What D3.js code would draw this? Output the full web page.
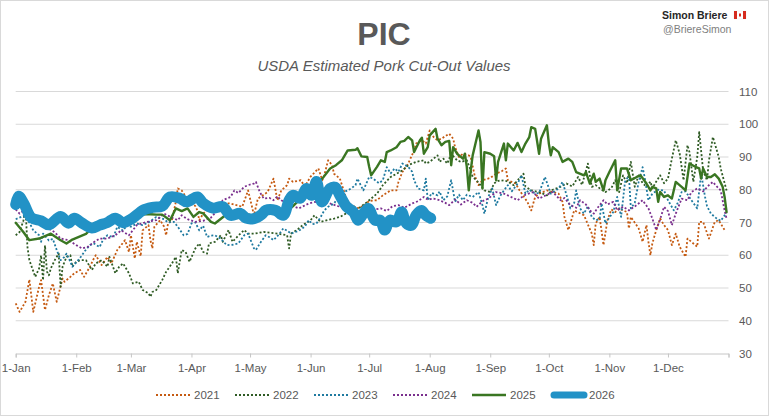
<!DOCTYPE html>
<html>
<head>
<meta charset="utf-8">
<script src="https://cdn.jsdelivr.net/npm/d3@7"></script>
<style>
  body { margin: 0; background: #fff; }
  svg { display: block; font-family: "Liberation Sans", Arial, sans-serif; }
</style>
</head>
<body>
<svg id="chart" width="769" height="416"></svg>
<script>
// values: [day of year, $/cwt]
const y2021 = [[0,45.3],[2,42.7],[5,45.8],[7,52.6],[9,42.7],[12,50.4],[13,52.4],[15,43.3],[17,47.8],[19,51.4],[21,45.8],[24,52.9],[25,51.9],[28,53.4],[30,54.5],[33,55.5],[35,53.4],[38,56.5],[40,59],[41,60],[44,57],[47,59.5],[49,57.5],[52,61.6],[54,63.1],[56,64.6],[58,61],[59,66.1],[61,59],[62,64.1],[64,59.7],[65,67.6],[68,69.2],[69,64.6],[70,62.1],[71,68.7],[74,70.7],[76,68.7],[77,66.1],[78,69.7],[80,70.7],[82,76.3],[83,80.4],[85,79.8],[88,77],[92,75],[93,73.7],[94,70.7],[96,72.7],[100,75],[104,76],[110,75.8],[113,75.3],[116,74.8],[119,79.8],[121,74.8],[122,72.2],[124,77.3],[129,79.3],[132,83.4],[134,76.8],[136,79.8],[139,81.4],[140,83.4],[142,82.4],[146,82.9],[148,81],[151,84],[155,86.5],[157,82.9],[158,84.4],[160,89],[162,87.5],[163,84.9],[166,83.4],[170,76],[175,74.4],[178,75],[181,76.6],[185,76.8],[188,78.3],[192,79.8],[195,79.8],[196,82.4],[198,85.4],[201,88],[204,92],[205,94.1],[208,95.1],[210,94.1],[212,98.1],[214,96.1],[216,95.1],[218,95.6],[222,97.1],[224,95.6],[225,93],[227,90],[229,91],[232,90.5],[233,90],[235,84.4],[237,81.4],[239,82.9],[243,83.6],[246,84.9],[249,85.7],[251,86.5],[252,82.9],[256,81.9],[258,79.8],[262,76.3],[264,73.7],[266,77.8],[268,78.8],[272,79.8],[275,79.3],[278,78.8],[280,76.3],[281,71.7],[283,67.7],[285,71.7],[286,73.7],[291,72.2],[295,66.6],[296,63.1],[297,69.7],[299,71.7],[301,63.1],[303,70.7],[305,74],[307,73.2],[309,74.3],[311,73.7],[313,73.2],[314,68.2],[315,71.7],[319,68.2],[321,64.1],[323,69.2],[324,64.1],[325,60],[326,63.6],[328,67.7],[330,71.2],[332,69.2],[334,67.7],[336,63.1],[338,66.6],[340,62.6],[343,59.5],[344,65.1],[347,63.6],[349,62.6],[350,70.2],[352,70.2],[355,65.1],[358,70.2],[360,70.7],[363,67.7]];
const y2022 = [[0,66.1],[2,67.1],[4,70.7],[5,75],[6,62.6],[7,58.5],[10,53.4],[12,56],[13,60],[14,52.4],[15,63],[16,55],[17,53.9],[18,56],[20,58.5],[22,60.5],[23,50.4],[24,56.5],[26,59.5],[28,60],[29,56.5],[31,58],[33,58.5],[36,58.5],[39,55.5],[41,57.5],[44,58.5],[47,56.5],[48,59.5],[51,54.5],[53,56.5],[55,57.5],[58,54.5],[60,51.4],[63,51.9],[65,49.4],[68,48.4],[69,47.3],[70,48.8],[72,49.4],[75,52.4],[77,54.9],[80,57.5],[82,59.5],[83,54.5],[85,61.6],[87,61],[89,58],[92,62.1],[94,63.6],[96,61],[98,60.5],[99,63.6],[102,64.1],[105,66.1],[106,64.1],[109,67.7],[111,64.1],[114,66],[117,67.7],[119,66.6],[122,66.6],[127,67.1],[134,66.6],[139,66.1],[140,62.1],[141,66.6],[144,67.7],[147,69.2],[151,70.7],[153,72.2],[156,70.2],[160,70.8],[163,71.2],[166,71.7],[169,72.7],[173,73.7],[176,74.5],[179,75.8],[181,76.8],[185,78.8],[188,81.4],[192,83.9],[195,84.9],[198,85.9],[201,87.5],[205,88.5],[209,89],[210,88],[212,88.5],[215,90],[216,90.5],[217,88.5],[219,89.5],[221,88],[223,91],[226,89],[228,88.5],[231,89],[233,85.9],[234,83.9],[236,82.9],[238,81.4],[240,79.8],[243,79.3],[245,82],[247,82.7],[250,82.9],[252,82.5],[255,81.4],[257,82.9],[260,84.9],[261,81],[264,79.8],[268,79.3],[272,78.3],[275,80],[279,80.9],[282,81.9],[285,81],[288,83.9],[290,81.5],[293,88],[295,80.9],[297,81.4],[300,80],[302,79.3],[305,80.5],[307,82.9],[309,79.3],[311,84.4],[313,82],[315,88.5],[317,80.9],[319,84.4],[321,82],[323,80.9],[325,82.5],[326,80.4],[328,82.5],[330,84.4],[332,82],[334,83.4],[336,89.5],[338,95.1],[340,91],[342,82.9],[344,93.6],[345,91.5],[347,82.4],[349,90],[350,97.6],[352,85.9],[354,82.9],[355,89],[357,96.1],[360,90],[361,86.5],[364,79.8]];
const y2023 = [[0,71],[4,72],[7,70],[9,67.6],[12,66.1],[13,64.1],[14,66.6],[17,64.5],[19,65],[21,61.6],[23,58.5],[25,59.5],[26,60.5],[28,58],[29,56.5],[32,58.5],[34,60],[35,61],[38,63.1],[40,63.6],[43,62.5],[45,65.1],[47,66.1],[50,65.5],[52,68.7],[55,67.5],[57,69.2],[59,68.7],[62,69.7],[65,69.2],[68,70],[72,71.7],[76,71],[78,70],[81,70.2],[83,68.7],[86,66.1],[88,66.5],[90,69.7],[92,70],[94,67.6],[96,69],[98,65.6],[100,66],[102,66.1],[105,65.1],[108,63.1],[111,63.2],[114,63.6],[117,66.1],[119,66.6],[122,62.1],[123,61.6],[125,63.6],[128,66.1],[130,65.5],[132,64.6],[135,66.5],[137,68.2],[139,67.5],[141,66.6],[145,67.5],[148,68.7],[150,70.7],[152,69.5],[154,69.7],[156,71.5],[158,73.7],[160,74.8],[163,75.8],[165,77.5],[168,79.3],[170,79.8],[172,80.5],[174,81.4],[175,83.4],[178,79.8],[181,83.9],[183,83.4],[186,82],[188,82.9],[190,86.9],[192,85],[194,86.5],[196,85.5],[198,88],[201,87],[203,85.5],[204,82.9],[206,80.4],[209,79.8],[210,83.4],[211,76.8],[213,79],[216,78.3],[217,79.5],[219,76.8],[221,78],[223,82.9],[225,76.3],[227,78.5],[229,76.8],[231,78.5],[234,77.8],[237,79.3],[239,75.3],[240,72.7],[242,77.8],[244,80.4],[246,75.3],[248,78],[250,79.8],[252,81.4],[254,79.5],[257,81.9],[259,84.4],[261,78.8],[263,80],[266,78.8],[268,79],[271,83.9],[274,78.8],[276,79.5],[278,80.4],[280,82.4],[282,78.5],[284,74.3],[286,76],[287,79.8],[289,74.3],[291,72.7],[293,75],[295,71.7],[297,70.7],[299,71],[300,75.8],[302,69.7],[304,71.5],[306,73.2],[308,77.8],[310,71.7],[312,82.4],[314,84.4],[315,74.3],[317,76],[319,82.4],[321,86.9],[322,84],[324,76.8],[326,78.8],[329,80],[332,79.8],[334,76.8],[337,73.7],[339,76],[341,79.3],[343,79.5],[346,76.8],[349,74.3],[351,84.9],[353,77.8],[354,75],[356,72.7],[359,71.2],[361,70.5],[364,73]];
const y2024 = [[0,74],[2,72.7],[5,74],[8,72],[12,70],[16,68.5],[20,67],[23,65.1],[27,64.6],[31,63.1],[34,62.1],[37,62.6],[40,64],[43,65.1],[47,65.1],[51,66.1],[54,67.6],[58,66.1],[62,69.2],[66,70],[70,70.5],[72,70.7],[76,72.7],[80,71.5],[83,70.7],[85,72.2],[88,71],[92,70.2],[96,70.5],[100,71.5],[103,73.5],[106,76.8],[110,77.8],[112,79.8],[114,79],[117,80.9],[119,81.4],[122,81.9],[123,82.4],[125,79.3],[127,77.3],[130,77.5],[132,76.8],[134,78],[136,76.8],[140,75.5],[145,74.3],[150,75.8],[155,76.5],[160,76],[165,75],[170,74.5],[175,73.5],[180,73.5],[184,74],[187,74.3],[190,73.5],[193,75],[196,75.3],[199,74.5],[203,75.8],[206,76.5],[209,77.8],[211,77],[214,77.3],[217,76.8],[220,76],[222,75.3],[225,77],[228,75.5],[231,76.8],[234,76],[236,74.8],[239,76.5],[242,77.3],[246,79.3],[250,78.8],[253,78],[257,76.8],[261,78.5],[265,79.3],[268,77.3],[272,78.5],[275,79.3],[279,76.8],[281,77.5],[284,75.3],[287,74.5],[289,76.8],[292,75.5],[294,73.7],[296,72.7],[298,74.5],[301,76.8],[303,75.5],[306,76.3],[308,73.7],[311,74.8],[314,73.7],[318,75.3],[321,76.8],[324,74.3],[326,71.2],[328,67.7],[330,71],[332,74.8],[334,73.5],[336,69.2],[338,72.7],[341,77.3],[344,76.8],[346,79.3],[349,80.4],[352,79.5],[355,81.4],[357,82.4],[359,81],[361,79.8],[363,73.7],[364,71.2]];
const y2025 = [[0,69.9],[4,67],[7,64.6],[12,65.1],[18,66.6],[23,64.6],[26,63.6],[29,64.8],[36,66.5],[40,69],[45,69.5],[50,70.5],[55,70],[60,71],[65,72.5],[69,72.5],[72,72.4],[75,72.4],[79,70.7],[82,74.3],[85,73.5],[88,74.3],[91,71.7],[94,73.2],[96,72.8],[100,70.2],[102,69.7],[108,72.5],[115,73],[122,72],[128,72.5],[133,73],[137,72.5],[142,75],[147,78],[152,81],[157,83.4],[161,86.5],[164,87.5],[167,89],[170,92],[174,92.2],[175,92.7],[177,90.2],[180,90],[181,87],[182,84.4],[185,87],[187,89],[189,88.5],[190,91.5],[192,92],[195,93],[197,94.6],[199,94.9],[201,96.1],[203,95.1],[204,91.5],[207,95.1],[208,95.9],[209,91],[211,93],[212,96.6],[215,98.6],[216,95.6],[218,93.6],[220,94.6],[222,94.9],[223,87.5],[224,93],[226,91],[227,90.5],[229,89.5],[230,91],[231,87],[232,79.8],[233,85.9],[234,90.5],[237,98.1],[238,94.6],[239,80.4],[240,91.5],[243,91],[245,90.2],[246,82.9],[247,88.5],[250,94.1],[251,89],[252,94.1],[255,92],[257,94.3],[259,91.5],[261,94.1],[263,96.1],[264,99.1],[266,98.6],[268,91],[269,95.6],[272,99.7],[273,94.1],[274,90.5],[275,93],[278,91.5],[280,88.5],[283,89.5],[285,88.5],[287,85.4],[291,84.4],[292,85.4],[294,81.9],[296,84.9],[297,82.4],[299,83.4],[301,79.8],[302,82.9],[304,85.4],[307,89],[308,79.8],[310,86.5],[313,86.5],[315,82.9],[318,83.9],[320,84.4],[323,81.9],[325,79.8],[326,80.9],[328,80.4],[329,76.3],[330,79.3],[332,77.8],[334,78.3],[336,77.3],[338,82.4],[341,80.9],[343,79.8],[345,88],[348,87],[350,86.5],[351,83.4],[352,86.5],[354,83.9],[356,83.9],[358,84.7],[360,83.4],[362,80.9],[363,77.8],[364,73.2]];
const y2026 = [[0,75.5],[1.5,78],[4,76],[8,71.5],[13,70.5],[17,69.3],[23,71.8],[27,69.8],[30,71.3],[34,69.8],[39,68.3],[43,69.2],[47,70],[51,71.3],[55,69.9],[59,71],[62,72.3],[65,73.7],[70,74.6],[75,75],[79,77.8],[84,77.4],[87.5,76.3],[93,77.8],[96,75.9],[101,74.4],[106,74.8],[110,72.2],[115,72.8],[118,71.3],[122,71.2],[126,72.5],[128,73.7],[133,73.7],[137,72.2],[140,76.8],[142,78.3],[145.6,77.4],[149,80.4],[151.5,78.3],[154,82.5],[156.7,76.3],[161,80.4],[163.5,80.8],[166,78.3],[169.5,74.8],[173,73.2],[175.4,70.7],[178,72.7],[180.5,74.3],[184,70.7],[186.6,70.7],[189,67.7],[191.6,70.7],[195,70.2],[197.6,73.2],[200,69.8],[202.8,69.2],[205,72.2],[207.7,73.7],[210,72.2],[212.5,71.3]];

const seriesNames = ["2021", "2022", "2023", "2024", "2025", "2026"];
const monthLabels = ["1-Jan","1-Feb","1-Mar","1-Apr","1-May","1-Jun","1-Jul","1-Aug","1-Sep","1-Oct","1-Nov","1-Dec"];
const yTicks = [30, 40, 50, 60, 70, 80, 90, 100, 110];

const series = [
  { name: "2021", values: y2021, color: "#c55a11", width: 1.8, dash: "2,2" },
  { name: "2022", values: y2022, color: "#2f5b24", width: 1.8, dash: "2,2" },
  { name: "2023", values: y2023, color: "#1f7aa0", width: 1.8, dash: "2,2" },
  { name: "2024", values: y2024, color: "#7a2f8e", width: 1.8, dash: "2,2" },
  { name: "2025", values: y2025, color: "#3a7622", width: 2.4, dash: null },
  { name: "2026", values: y2026, color: "#2292c6", width: 11, dash: null }
];

const svg = d3.select("#chart");
const base = new Date(2021, 0, 1);
const toDate = d => new Date(base.getTime() + d * 864e5);

const x = d3.scaleTime().domain([base, new Date(2022, 0, 1)]).range([15.7, 728.5]);
const y = d3.scaleLinear().domain([30, 110]).range([353.5, 91.5]);

// frame
svg.append("rect")
  .attr("x", 0.5).attr("y", 0.5).attr("width", 768).attr("height", 415)
  .attr("fill", "#fff").attr("stroke", "#d9d9d9");

// titles
svg.append("text").attr("x", 384).attr("y", 45).attr("text-anchor", "middle")
  .attr("font-size", 32).attr("font-weight", "bold").attr("fill", "#595959").text("PIC");
svg.append("text").attr("x", 384).attr("y", 71).attr("text-anchor", "middle")
  .attr("font-size", 15).attr("font-style", "italic").attr("fill", "#595959")
  .text("USDA Estimated Pork Cut-Out Values");

// signature
svg.append("text").attr("x", 662).attr("y", 19).attr("font-size", 10.5)
  .attr("font-weight", "bold").attr("fill", "#262626").text("Simon Briere");
const flag = svg.append("g").attr("transform", "translate(734,11)");
flag.append("rect").attr("width", 12).attr("height", 8).attr("fill", "#fff").attr("stroke", "#ddd").attr("stroke-width", 0.3);
flag.append("rect").attr("width", 3).attr("height", 8).attr("fill", "#d52b1e");
flag.append("rect").attr("x", 9).attr("width", 3).attr("height", 8).attr("fill", "#d52b1e");
flag.append("rect").attr("x", 5).attr("y", 2.5).attr("width", 2).attr("height", 3).attr("fill", "#d52b1e");
svg.append("text").attr("x", 663).attr("y", 33).attr("font-size", 10.5)
  .attr("fill", "#808080").text("@BriereSimon");

// gridlines
svg.append("g").selectAll("line")
  .data(yTicks.filter(v => v > 30))
  .join("line")
  .attr("x1", x.range()[0]).attr("x2", x.range()[1])
  .attr("y1", d => y(d)).attr("y2", d => y(d))
  .attr("stroke", "#d9d9d9").attr("stroke-width", 1);

// right value labels
svg.append("g").selectAll("text")
  .data(yTicks)
  .join("text")
  .attr("x", 739).attr("y", d => y(d)).attr("dy", "0.35em")
  .attr("font-size", 11.5).attr("fill", "#595959")
  .text(d => d);

// x axis
const monthDates = d3.timeMonth.range(base, new Date(2022, 0, 2));
const xAxis = d3.axisBottom(x)
  .tickValues(monthDates)
  .tickSize(4)
  .tickPadding(6)
  .tickFormat((d, i) => monthLabels[i] || "");
const gx = svg.append("g").attr("transform", "translate(0,353.5)").call(xAxis);
gx.select(".domain").attr("stroke", "#c6c6c6");
gx.selectAll(".tick line").attr("stroke", "#c6c6c6");
gx.selectAll(".tick text").attr("fill", "#595959").attr("font-size", 11.5)
  .attr("font-family", "'Liberation Sans', Arial, sans-serif");

// lines
const line = d3.line()
  .x(d => x(toDate(d[0])))
  .y(d => y(d[1]));

const plot = svg.append("g");
series.forEach(s => {
  plot.append("path")
    .datum(s.values)
    .attr("fill", "none")
    .attr("stroke", s.color)
    .attr("stroke-width", s.width)
    .attr("stroke-dasharray", s.dash)
    .attr("stroke-linejoin", "round")
    .attr("stroke-linecap", s.dash ? "butt" : "round")
    .attr("d", s.name === "2026" ? line.curve(d3.curveCatmullRom)(s.values) : line.curve(d3.curveLinear)(s.values));
});

// legend
const legend = svg.append("g").attr("transform", "translate(156,395)");
const item = legend.selectAll("g")
  .data(series)
  .join("g")
  .attr("transform", (d, i) => `translate(${i * 79},0)`);
item.append("line")
  .attr("x1", d => d.name === "2026" ? 3 : 0).attr("x2", d => d.name === "2026" ? 33 : 34)
  .attr("stroke", d => d.color)
  .attr("stroke-width", d => d.name === "2026" ? 7 : (d.dash ? 1.8 : 2.4))
  .attr("stroke-dasharray", d => d.dash)
  .attr("stroke-linecap", d => d.name === "2026" ? "round" : "butt");
item.append("text")
  .attr("x", 38).attr("dy", "0.35em")
  .attr("font-size", 11.5).attr("fill", "#595959")
  .text(d => d.name);
</script>
</body>
</html>
